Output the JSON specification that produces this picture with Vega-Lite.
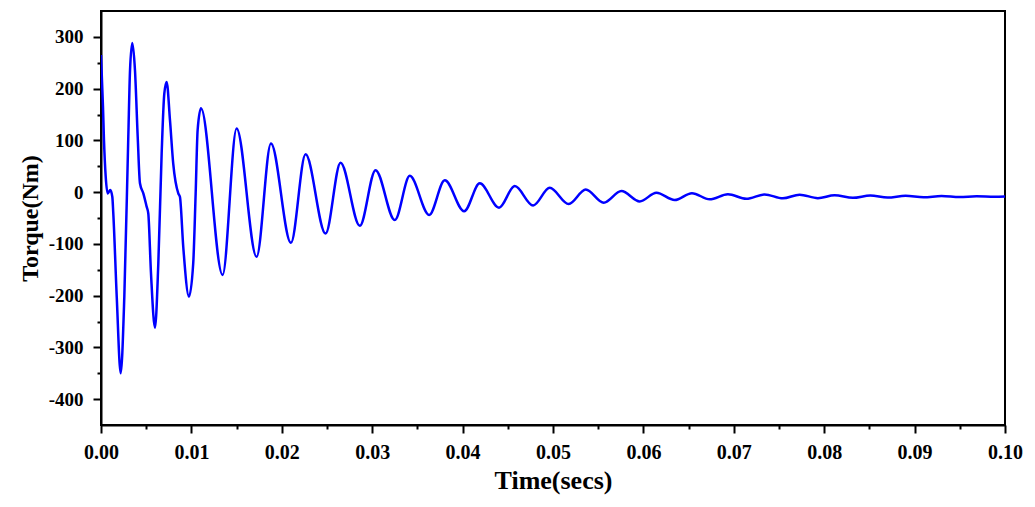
{
  "$schema": "https://vega.github.io/schema/vega-lite/v6.json",
  "autosize": "none",
  "padding": {"left": 101, "top": 11, "right": 30, "bottom": 82},
  "width": 904,
  "height": 414,
  "background": "white",
  "data": {
    "values": [
      {"t": 0.0, "torque": 265},
      {"t": 0.00022, "torque": 165},
      {"t": 0.00033, "torque": 100},
      {"t": 0.00052, "torque": 30},
      {"t": 0.00074, "torque": -2.5},
      {"t": 0.00103, "torque": 4},
      {"t": 0.00125, "torque": -9},
      {"t": 0.00136, "torque": -41},
      {"t": 0.00174, "torque": -202},
      {"t": 0.00218, "torque": -350},
      {"t": 0.00258, "torque": -202},
      {"t": 0.00302, "torque": 107},
      {"t": 0.00321, "torque": 235},
      {"t": 0.00346, "torque": 288},
      {"t": 0.00376, "torque": 235},
      {"t": 0.00406, "torque": 107},
      {"t": 0.00431, "torque": 17},
      {"t": 0.00468, "torque": -2.5},
      {"t": 0.00505, "torque": -28},
      {"t": 0.00523, "torque": -41},
      {"t": 0.00553, "torque": -157},
      {"t": 0.00597, "torque": -262},
      {"t": 0.00634, "torque": -138},
      {"t": 0.00671, "torque": 75},
      {"t": 0.007, "torque": 190},
      {"t": 0.00726, "torque": 213},
      {"t": 0.00763, "torque": 139},
      {"t": 0.00799, "torque": 55},
      {"t": 0.00855, "torque": -2.5},
      {"t": 0.00873, "torque": -9},
      {"t": 0.0091, "torque": -106},
      {"t": 0.00973, "torque": -202},
      {"t": 0.0102, "torque": -138},
      {"t": 0.01047, "torque": -3},
      {"t": 0.01069, "torque": 120},
      {"t": 0.01106, "torque": 162},
      {"t": 0.01345, "torque": -160},
      {"t": 0.015, "torque": 123},
      {"t": 0.01721, "torque": -125},
      {"t": 0.0188, "torque": 94},
      {"t": 0.02101, "torque": -98},
      {"t": 0.02263, "torque": 73},
      {"t": 0.02484, "torque": -80},
      {"t": 0.0265, "torque": 57},
      {"t": 0.02863, "torque": -65},
      {"t": 0.03037, "torque": 42.5},
      {"t": 0.0325, "torque": -54},
      {"t": 0.03416, "torque": 31.5},
      {"t": 0.0363, "torque": -44},
      {"t": 0.03803, "torque": 23},
      {"t": 0.04017, "torque": -37},
      {"t": 0.0419, "torque": 17},
      {"t": 0.04403, "torque": -30},
      {"t": 0.04577, "torque": 11.6},
      {"t": 0.0478, "torque": -26},
      {"t": 0.04964, "torque": 8.3},
      {"t": 0.05174, "torque": -23},
      {"t": 0.05362, "torque": 5},
      {"t": 0.05561, "torque": -20.6},
      {"t": 0.05757, "torque": 2},
      {"t": 0.05959, "torque": -18},
      {"t": 0.06144, "torque": -1.3},
      {"t": 0.06346, "torque": -15.4},
      {"t": 0.06537, "torque": -2},
      {"t": 0.06733, "torque": -14},
      {"t": 0.06935, "torque": -4},
      {"t": 0.07139, "torque": -13},
      {"t": 0.07341, "torque": -4.5},
      {"t": 0.07543, "torque": -12},
      {"t": 0.07728, "torque": -5},
      {"t": 0.0793, "torque": -11.6},
      {"t": 0.08115, "torque": -6},
      {"t": 0.08317, "torque": -11},
      {"t": 0.0851, "torque": -6.5},
      {"t": 0.08701, "torque": -10.5},
      {"t": 0.089, "torque": -7},
      {"t": 0.09099, "torque": -10},
      {"t": 0.09298, "torque": -7.5},
      {"t": 0.09497, "torque": -9.5},
      {"t": 0.09685, "torque": -8},
      {"t": 0.09884, "torque": -9},
      {"t": 0.1, "torque": -8.5}
    ]
  },
  "mark": {
    "type": "line",
    "color": "#0000ff",
    "strokeWidth": 2.5,
    "interpolate": "monotone",
    "clip": true
  },
  "encoding": {
    "x": {
      "field": "t",
      "type": "quantitative",
      "title": "Time(secs)",
      "scale": {"domain": [0, 0.1], "nice": false, "zero": false},
      "axis": {
        "values": [0, 0.005, 0.01, 0.015, 0.02, 0.025, 0.03, 0.035, 0.04, 0.045, 0.05, 0.055, 0.06, 0.065, 0.07, 0.075, 0.08, 0.085, 0.09, 0.095, 0.1],
        "labelExpr": "round(datum.value * 1000) % 10 === 0 ? format(datum.value, '.2f') : ''",
        "tickSize": {"condition": {"test": "round(datum.value * 1000) % 10 !== 0", "value": 4}, "value": 8},
        "labelFlush": false,
        "labelFontSize": 20,
        "labelPadding": 9,
        "titleFontSize": 26,
        "titlePadding": 5
      }
    },
    "y": {
      "field": "torque",
      "type": "quantitative",
      "title": "Torque(Nm)",
      "scale": {"domain": [-450, 350], "nice": false, "zero": false},
      "axis": {
        "values": [-400, -350, -300, -250, -200, -150, -100, -50, 0, 50, 100, 150, 200, 250, 300],
        "labelExpr": "datum.value % 100 === 0 ? (datum.value < 0 ? '-' + abs(datum.value) : '' + datum.value) : ''",
        "tickSize": {"condition": {"test": "datum.value % 100 !== 0", "value": 4}, "value": 8},
        "labelFlush": false,
        "labelFontSize": 19,
        "labelPadding": 10,
        "titleFontSize": 24,
        "titlePadding": 6
      }
    }
  },
  "config": {
    "font": "Liberation Serif",
    "view": {"stroke": "black", "strokeWidth": 2},
    "axis": {
      "grid": false,
      "domainColor": "black",
      "domainWidth": 2,
      "tickColor": "black",
      "tickWidth": 2,
      "labelColor": "black",
      "labelFont": "Liberation Serif",
      "labelFontWeight": "bold",
      "titleColor": "black",
      "titleFont": "Liberation Serif",
      "titleFontWeight": "bold",
      "labelOverlap": false
    }
  }
}
